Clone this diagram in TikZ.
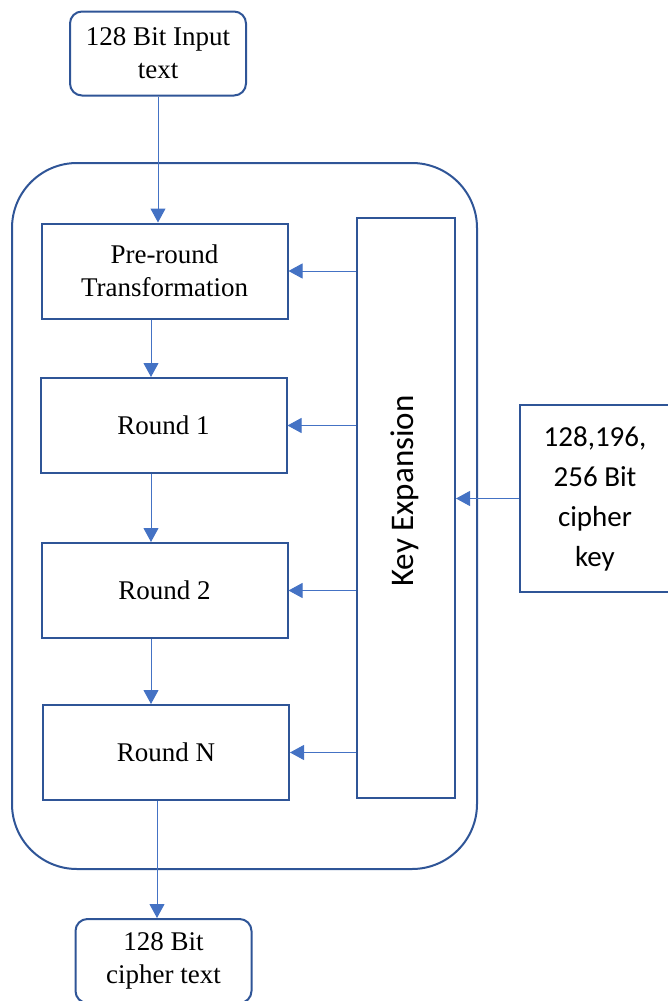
\documentclass[tikz,border=0pt]{standalone}
\usepackage{fontspec}
\setmainfont{Liberation Serif}
\setsansfont{Carlito}
\usepackage{tikz}
\definecolor{frame}{RGB}{47,85,151}
\definecolor{link}{RGB}{68,114,196}
\usetikzlibrary{arrows.meta}

\tikzset{
  blk/.style={draw=frame,line width=2pt,rectangle,inner sep=0pt,align=center,
    font=\fontsize{27}{33}\selectfont},
  io/.style={blk,rounded corners=12pt,minimum width=176pt,minimum height=84pt},
  rnd/.style={blk,minimum width=246pt,minimum height=95pt},
  arr/.style={link,line width=1pt,-{Triangle[width=15pt,length=14pt]}}
}

\begin{document}
\begin{tikzpicture}[x=1pt,y=-1pt]
  \useasboundingbox (0,0) rectangle (667,1001);

  \draw [frame,line width=2pt,rounded corners=65pt] (12,163) rectangle (477,869);

  \node (in) [io] at (158,53.5) {128 Bit Input\\text};
  \node (pre) [rnd] at (164.5,271) {Pre-round\\Transformation};
  \node (r1) [rnd] at (163.5,425.5) {Round 1};
  \node (r2) [rnd] at (164.5,590.5) {Round 2};
  \node (rN) [rnd] at (166,752.5) {Round N};
  \node (out) [io] at (163.5,961) {128 Bit\\cipher text};

  \node (kx) [blk,minimum width=98pt,minimum height=580pt] at (406,508) {};
  \node (kxt) [font=\sffamily\fontsize{33}{38}\selectfont,rotate=90] at (405,491) {Key Expansion};
  \node (key) [blk,minimum width=150pt,minimum height=187pt,
    font=\sffamily\fontsize{29}{40}\selectfont] at (595,498.5) {128,196,\\256 Bit\\cipher\\key};

  \draw [arr] (in.south) -- (in.south |- pre.north);
  \draw [arr] ([xshift=-13.5pt]pre.south) -- ([xshift=-13.5pt]pre.south |- r1.north);
  \draw [arr] ([xshift=-12.5pt]r1.south) -- ([xshift=-12.5pt]r1.south |- r2.north);
  \draw [arr] ([xshift=-13.5pt]r2.south) -- ([xshift=-13.5pt]r2.south |- rN.north);
  \draw [arr] ([xshift=-9pt]rN.south) -- ([xshift=-9pt]rN.south |- out.north);

  \draw [arr] (kx.west |- pre.east) -- (pre.east);
  \draw [arr] (kx.west |- r1.east) -- (r1.east);
  \draw [arr] (kx.west |- r2.east) -- (r2.east);
  \draw [arr] (kx.west |- rN.east) -- (rN.east);
  \draw [arr] (key.west) -- (key.west -| kx.east);
\end{tikzpicture}
\end{document}
